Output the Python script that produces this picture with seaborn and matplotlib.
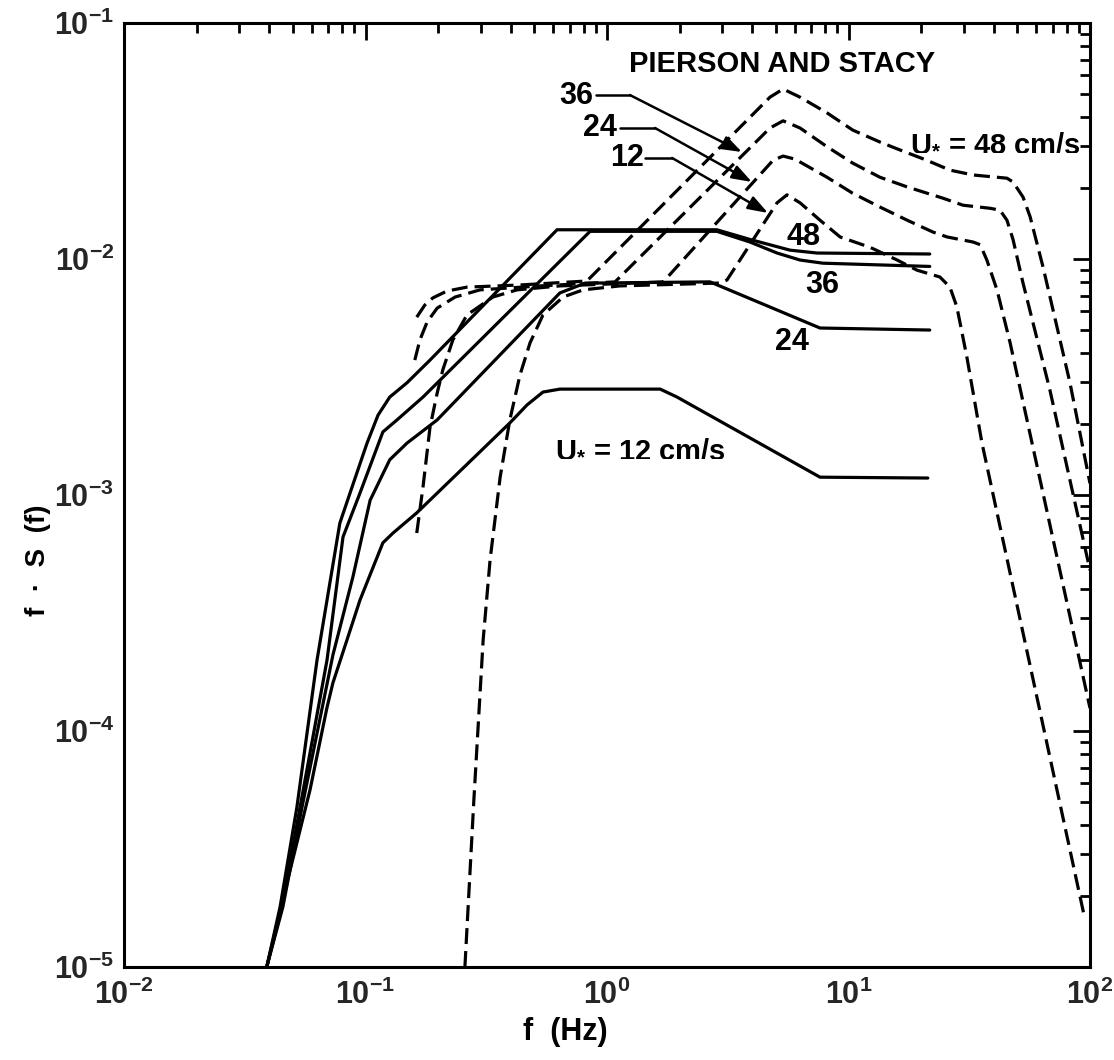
import numpy as np
import pandas as pd
import matplotlib
matplotlib.use("Agg")
import matplotlib.pyplot as plt
import seaborn as sns
from matplotlib.ticker import LogLocator, NullFormatter, FuncFormatter, FixedLocator

# ---------------- data ----------------
# Pierson and Stacy (solid)
s48_f = [0.039, 0.0443, 0.052, 0.063, 0.0783, 0.0863, 0.1015, 0.1127, 0.126, 0.1486, 0.185, 0.621, 2.85, 3.91, 5.73, 7.41, 21.7]
s48_v = [1.0e-5, 1.8e-5, 4.76e-5, 2.0e-4, 7.6e-4, 1.02e-3, 1.66e-3, 2.18e-3, 2.6e-3, 2.99e-3, 3.73e-3, 1.33e-2, 1.33e-2, 1.21e-2, 1.09e-2, 1.06e-2, 1.05e-2]

s36_f = [0.039, 0.0451, 0.0536, 0.0693, 0.0807, 0.0949, 0.118, 0.135, 0.173, 0.851, 2.85, 3.91, 5.06, 6.30, 7.83, 21.7]
s36_v = [1.0e-5, 1.8e-5, 4.76e-5, 2.0e-4, 6.64e-4, 1.02e-3, 1.85e-3, 2.08e-3, 2.6e-3, 1.31e-2, 1.31e-2, 1.18e-2, 1.06e-2, 9.9e-3, 9.6e-3, 9.3e-3]

s24_f = [0.039, 0.0455, 0.0546, 0.0733, 0.0887, 0.1045, 0.126, 0.1486, 0.198, 0.638, 0.811, 2.67, 7.62, 21.7]
s24_v = [1.0e-5, 1.8e-5, 4.76e-5, 2.1e-4, 4.5e-4, 9.5e-4, 1.41e-3, 1.66e-3, 2.08e-3, 7.18e-3, 7.9e-3, 8.0e-3, 5.1e-3, 5.0e-3]

s12_f = [0.039, 0.0465, 0.0589, 0.0693, 0.0733, 0.0838, 0.0949, 0.118, 0.130, 0.163, 0.396, 0.467, 0.543, 0.638, 1.66, 1.95, 7.62, 21.3]
s12_v = [1.0e-5, 2.12e-5, 5.62e-5, 1.26e-4, 1.6e-4, 2.43e-4, 3.59e-4, 6.27e-4, 6.9e-4, 8.4e-4, 2.02e-3, 2.41e-3, 2.73e-3, 2.81e-3, 2.81e-3, 2.6e-3, 1.19e-3, 1.18e-3]

# model spectra (dashed)
d48_f = [0.163, 0.176, 0.190, 0.217, 0.263, 0.436, 0.826, 4.73, 5.36, 6.30, 8.15, 10.4, 13.5, 16.3, 21.1, 26.3, 32.8, 45.3, 48.0, 52.8, 56.5, 63.9, 82.6, 100]
d48_v = [5.67e-3, 6.38e-3, 6.84e-3, 7.31e-3, 7.6e-3, 7.76e-3, 8.07e-3, 4.85e-2, 5.25e-2, 4.85e-2, 4.16e-2, 3.52e-2, 3.13e-2, 2.9e-2, 2.62e-2, 2.38e-2, 2.27e-2, 2.2e-2, 2.12e-2, 1.83e-2, 1.51e-2, 9.25e-3, 2.99e-3, 1.12e-3]

d36_f = [0.160, 0.168, 0.180, 0.198, 0.235, 0.298, 0.529, 1.08, 4.73, 5.36, 6.30, 8.15, 10.4, 13.5, 17.5, 24.6, 29.8, 38.6, 42.4, 45.3, 48.0, 52.8, 68.2, 100]
d36_v = [3.73e-3, 4.54e-3, 5.41e-3, 6.19e-3, 6.9e-3, 7.4e-3, 7.69e-3, 8.0e-3, 3.59e-2, 3.85e-2, 3.59e-2, 2.99e-2, 2.55e-2, 2.22e-2, 2.02e-2, 1.81e-2, 1.69e-2, 1.64e-2, 1.61e-2, 1.46e-2, 1.21e-2, 7.91e-3, 2.79e-3, 4.8e-4]

d24_f = [0.163, 0.173, 0.185, 0.198, 0.209, 0.230, 0.263, 0.337, 0.424, 0.638, 1.71, 4.87, 5.36, 6.0, 8.15, 10.4, 13.5, 17.5, 22.4, 25.6, 32.8, 35.1, 37.4, 41.2, 46.7, 100]
d24_v = [6.9e-4, 1.08e-3, 1.94e-3, 2.7e-3, 3.39e-3, 4.54e-3, 5.79e-3, 6.9e-3, 7.4e-3, 7.69e-3, 8.0e-3, 2.62e-2, 2.73e-2, 2.65e-2, 2.22e-2, 1.9e-2, 1.66e-2, 1.46e-2, 1.3e-2, 1.24e-2, 1.18e-2, 1.15e-2, 9.9e-3, 7.4e-3, 4.41e-3, 1.25e-4]

d12_f = [0.258, 0.281, 0.307, 0.328, 0.361, 0.396, 0.436, 0.480, 0.543, 0.658, 0.796, 1.13, 2.94, 3.14, 5.06, 5.56, 6.30, 7.62, 9.23, 12.3, 15.9, 19.2, 23.9, 26.3, 28.1, 30.9, 35.7, 94.0]
d12_v = [1.0e-5, 5.1e-5, 2.43e-4, 5.31e-4, 1.19e-3, 2.08e-3, 3.22e-3, 4.41e-3, 5.79e-3, 6.9e-3, 7.4e-3, 7.69e-3, 7.91e-3, 8.15e-3, 1.73e-2, 1.87e-2, 1.73e-2, 1.46e-2, 1.24e-2, 1.12e-2, 9.9e-3, 8.97e-3, 8.39e-3, 7.6e-3, 6.27e-3, 3.85e-3, 1.66e-3, 1.7e-5]

x_ticks = [1e-2, 1e-1, 1e0, 1e1, 1e2]
y_ticks = [1e-5, 1e-4, 1e-3, 1e-2, 1e-1]

# ---------------- style ----------------
sns.set_theme(style="white")
plt.rcParams.update({
    "font.family": ["Liberation Sans", "DejaVu Sans"],
    "font.weight": "bold",
    "mathtext.fontset": "custom",
    "mathtext.rm": "Liberation Sans:bold",
    "mathtext.bf": "Liberation Sans:bold",
    "mathtext.it": "Liberation Sans:bold:italic",
    "mathtext.sf": "Liberation Sans:bold",
    "mathtext.default": "bf",
    "axes.linewidth": 2.2,
    "axes.edgecolor": "black",
})

fig = plt.figure(figsize=(11.14, 10.6), dpi=100)
ax = fig.add_axes([124 / 1114, 1 - 967 / 1060, 966 / 1114, 944 / 1060])
ax.set_xscale("log")
ax.set_yscale("log")

frames = []
for name, fx, fy, kind in [
    ("S48", s48_f, s48_v, "solid"), ("S36", s36_f, s36_v, "solid"),
    ("S24", s24_f, s24_v, "solid"), ("S12", s12_f, s12_v, "solid"),
    ("D48", d48_f, d48_v, "dashed"), ("D36", d36_f, d36_v, "dashed"),
    ("D24", d24_f, d24_v, "dashed"), ("D12", d12_f, d12_v, "dashed"),
]:
    frames.append(pd.DataFrame({"f": fx, "fS": fy, "curve": name, "kind": kind}))
df = pd.concat(frames, ignore_index=True)

for name, sub in df.groupby("curve", sort=False):
    sns.lineplot(data=sub, x="f", y="fS", sort=False, estimator=None,
                 color="black", lw=2.3, ax=ax, legend=False)
    line = ax.lines[-1]
    line.set_solid_joinstyle("round")
    if sub["kind"].iloc[0] == "dashed":
        line.set_dashes([5.0, 2.2])
        line.set_dash_capstyle("butt")

ax.set_xlim(1e-2, 1e2)
ax.set_ylim(1e-5, 1e-1)

fmt = FuncFormatter(lambda v, p: r"$\mathbf{10^{%d}}$" % int(round(np.log10(v))))
ax.xaxis.set_major_locator(FixedLocator(x_ticks))
ax.yaxis.set_major_locator(FixedLocator(y_ticks))
ax.xaxis.set_major_formatter(fmt)
ax.yaxis.set_major_formatter(fmt)
ax.xaxis.set_minor_locator(LogLocator(base=10, subs=np.arange(2, 10), numticks=20))
ax.yaxis.set_minor_locator(LogLocator(base=10, subs=np.arange(2, 10), numticks=20))
ax.xaxis.set_minor_formatter(NullFormatter())
ax.yaxis.set_minor_formatter(NullFormatter())
ax.tick_params(which="both", direction="in", top=True, right=True,
               width=2.0, color="black", labelsize=22)
ax.tick_params(axis="x", which="major", length=12, pad=9)
ax.tick_params(axis="y", which="major", length=12, pad=7)
ax.tick_params(which="minor", length=7)
for s in ax.spines.values():
    s.set_visible(True)
    s.set_linewidth(2.2)
ax.set_xlabel("")
ax.set_ylabel("")

# ---------------- annotations ----------------
txt = dict(fontweight="bold", color="black")
ax.text(5.31, 0.067, "PIERSON AND STACY", ha="center", va="center", fontsize=21, **txt)
ax.text(40.5, 0.0313, r"U$_{*}$ = 48 cm/s", ha="center", va="center", fontsize=21, **txt)
ax.text(1.37, 1.58e-3, r"U$_{*}$ = 12 cm/s", ha="center", va="center", fontsize=21, **txt)
ax.text(6.49, 0.0124, "48", ha="center", va="center", fontsize=22, **txt)
ax.text(7.76, 7.76e-3, "36", ha="center", va="center", fontsize=22, **txt)
ax.text(5.83, 4.45e-3, "24", ha="center", va="center", fontsize=22, **txt)

arrow_labels = ["36", "24", "12"]
arrow_lab_xy = [(0.744, 0.0491), (0.935, 0.0359), (1.21, 0.0268)]
arrow_lead = [((0.90, 0.0495), (1.245, 0.0495)),
              ((1.13, 0.0359), (1.58, 0.0359)),
              ((1.44, 0.0268), (1.86, 0.0268))]
arrow_tip = [(3.62, 0.0284), (3.98, 0.0212), (4.64, 0.01567)]
for lab, lxy, (p0, p1), tip in zip(arrow_labels, arrow_lab_xy, arrow_lead, arrow_tip):
    ax.text(lxy[0], lxy[1], lab, ha="center", va="center", fontsize=22, **txt)
    ax.plot([p0[0], p1[0]], [p0[1], p1[1]], color="black", lw=1.8)
    ax.annotate("", xy=tip, xytext=p1,
                arrowprops=dict(arrowstyle="-|>,head_length=1.0,head_width=0.35",
                                lw=1.8, color="black", shrinkA=0, shrinkB=0))

fig.text(38 / 1114, 1 - 560 / 1060, "f  ·  S  (f)", rotation=90, ha="center", va="center",
         fontsize=20, **txt)
fig.text(565 / 1114, 1 - 1032 / 1060, "f  (Hz)", ha="center", va="center", fontsize=22, **txt)

fig.savefig("out.png", dpi=100, facecolor="white")
